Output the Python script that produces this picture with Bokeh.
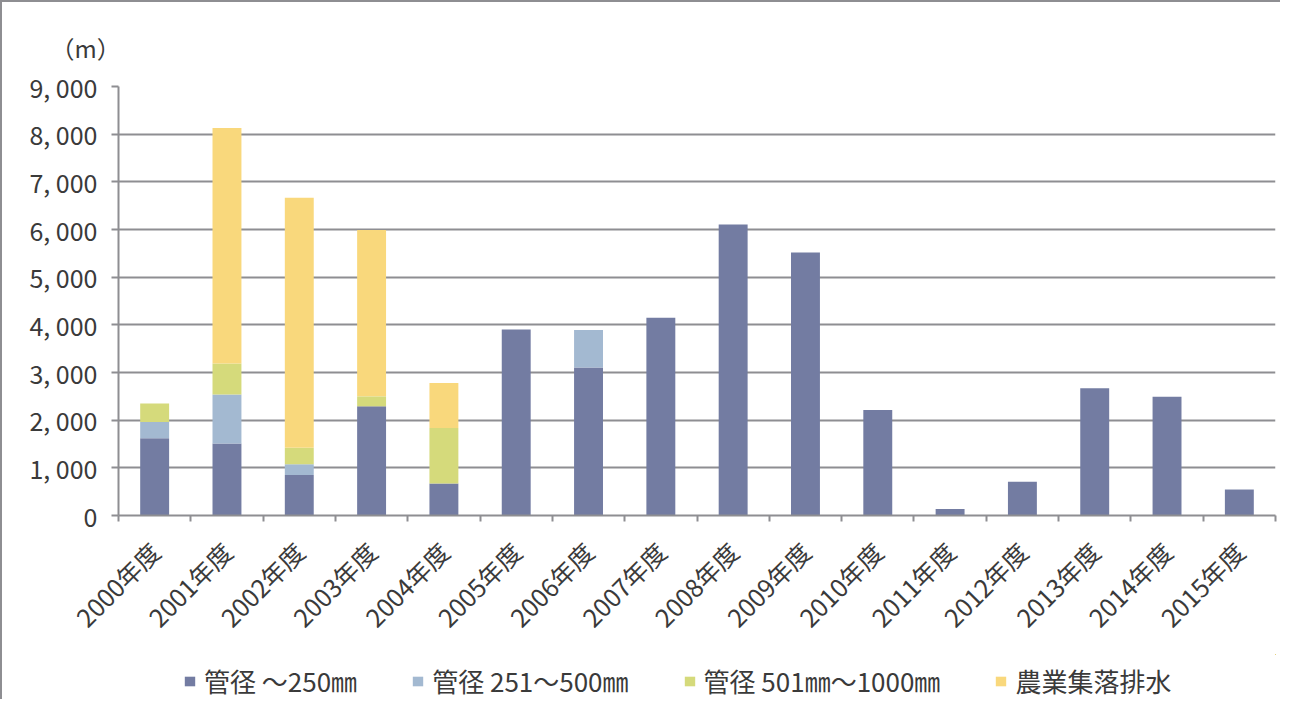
from bokeh.plotting import figure
from bokeh.models import (ColumnDataSource, Range1d, FixedTicker,
                          CustomJSTickFormatter, Title, Legend, LegendItem)
from bokeh.layouts import column
from bokeh.embed import file_html
from bokeh.resources import INLINE

years = ["2000年度", "2001年度", "2002年度", "2003年度", "2004年度", "2005年度",
         "2006年度", "2007年度", "2008年度", "2009年度", "2010年度", "2011年度",
         "2012年度", "2013年度", "2014年度", "2015年度"]
d_250 = [1620, 1510, 850, 2290, 670, 3900, 3105, 4150, 6105, 5520, 2215, 135, 710, 2670, 2490, 545]
d_500 = [340, 1030, 225, 0, 0, 0, 785, 0, 0, 0, 0, 0, 0, 0, 0, 0]
d_1000 = [390, 650, 345, 210, 1165, 0, 0, 0, 0, 0, 0, 0, 0, 0, 0, 0]
d_rural = [0, 4940, 5245, 3490, 945, 0, 0, 0, 0, 0, 0, 0, 0, 0, 0, 0]
series_labels = ["管径 ～250㎜", "管径 251～500㎜", "管径 501㎜～1000㎜", "農業集落排水"]
colors = ["#737CA2", "#A3B9D1", "#D5DA7B", "#F9D87C"]
y_ticks = [0, 1000, 2000, 3000, 4000, 5000, 6000, 7000, 8000, 9000]
unit_label = "（m）"

FONT = "Noto Sans CJK JP"
GRAY = "#8e8e92"
TXT = "#3a3a3a"

n = len(years)
centers = [i + 0.5 for i in range(n)]
bounds = [float(i) for i in range(n + 1)]
source = ColumnDataSource(dict(x=centers, year=years, a=d_250, b=d_500, c=d_1000, d=d_rural))
stackers = ["a", "b", "c", "d"]

W, H1, H2 = 1280, 654, 45
p = figure(x_range=Range1d(0, n), y_range=Range1d(0, 9000), width=W, height=H1,
           output_backend="svg", toolbar_location=None,
           min_border_left=116, min_border_right=7, min_border_top=84,
           min_border_bottom=141)
p.styles = {"border-top": f"2px solid {GRAY}", "border-left": f"2px solid {GRAY}"}
p.outline_line_color = None
p.background_fill_color = "white"
p.border_fill_color = "white"

p.vbar_stack(stackers, x="x", width=0.4, color=colors, line_color=None, source=source)

xaxis = p.xaxis[0]
xaxis.ticker = FixedTicker(ticks=centers, minor_ticks=bounds)
xaxis.formatter = CustomJSTickFormatter(args=dict(labels=years),
                                        code="return labels[Math.floor(tick)] || ''")
xaxis.major_tick_out = 0
xaxis.major_tick_in = 0
xaxis.major_tick_line_color = None
xaxis.minor_tick_out = 6
xaxis.minor_tick_in = 0
xaxis.minor_tick_line_color = GRAY
xaxis.minor_tick_line_width = 2
xaxis.axis_line_color = GRAY
xaxis.axis_line_width = 2
xaxis.major_label_orientation = 0.785398
xaxis.major_label_standoff = 25
xaxis.major_label_text_font = FONT
xaxis.major_label_text_font_size = "25px"
xaxis.major_label_text_color = TXT

yaxis = p.yaxis[0]
yaxis.ticker = FixedTicker(ticks=y_ticks)
yaxis.formatter = CustomJSTickFormatter(code="""
if (tick >= 1000) {
  const t = Math.round(tick);
  return Math.floor(t / 1000) + ', ' + String(t % 1000).padStart(3, '0');
}
return String(Math.round(tick));
""")
yaxis.minor_tick_line_color = None
yaxis.major_tick_out = 7
yaxis.major_tick_in = 0
yaxis.major_tick_line_color = GRAY
yaxis.major_tick_line_width = 2
yaxis.axis_line_color = GRAY
yaxis.axis_line_width = 2
yaxis.major_label_standoff = 14
yaxis.major_label_text_font = FONT
yaxis.major_label_text_font_size = "25px"
yaxis.major_label_text_color = TXT

p.ygrid.grid_line_color = GRAY
p.ygrid.grid_line_width = 2
p.xgrid.visible = False

p.add_layout(Title(text=unit_label, align="left", offset=-68, standoff=44,
                   text_font=FONT, text_font_size="24px", text_color=TXT,
                   text_font_style="normal"), "above")

# legend strip below the chart (its bars lie outside its visible ranges)
pl = figure(width=W, height=H2, output_backend="svg", toolbar_location=None,
            x_range=Range1d(-40, -24), y_range=Range1d(-2, -1), min_border=0)
pl.styles = {"border-left": f"2px solid {GRAY}"}
pl.axis.visible = False
pl.grid.visible = False
pl.outline_line_color = None
rs = pl.vbar_stack(stackers, x="x", width=0.4, color=colors, line_color=None, source=source)
items = [LegendItem(label=lab, renderers=[r]) for lab, r in zip(series_labels, rs)]
lg = Legend(items=items, orientation="horizontal", location=(65, 0),
            label_text_font=FONT, label_text_font_size="26px", label_text_color=TXT,
            glyph_width=13, glyph_height=12, label_standoff=8, spacing=54,
            padding=0, margin=0, border_line_color=None, background_fill_alpha=0)
pl.add_layout(lg, "center")

layout = column(p, pl, spacing=0)
open("out.html", "w").write(file_html(layout, INLINE))
